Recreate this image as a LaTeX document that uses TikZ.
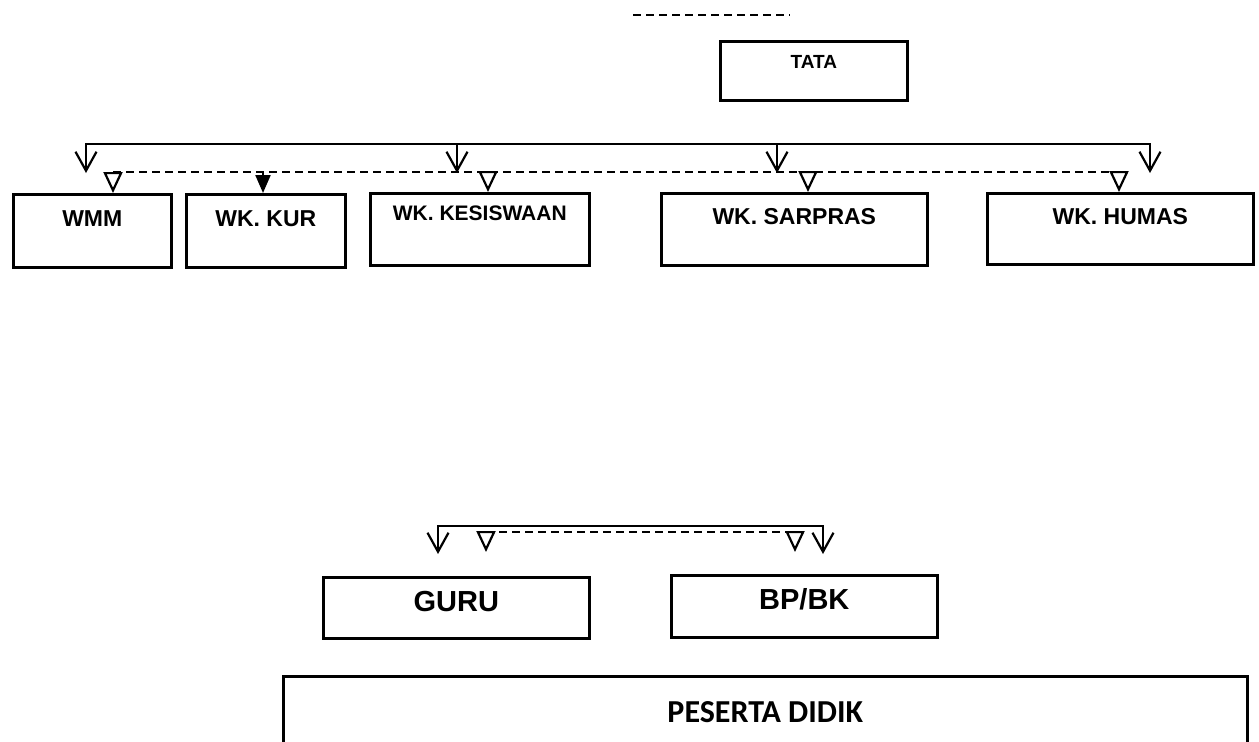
\documentclass[tikz,border=0pt]{standalone}
\usepackage{fontspec}
\setmainfont{Liberation Sans}
\newfontfamily\calibrifont{Carlito}
\usetikzlibrary{arrows.meta}

\begin{document}
\begin{tikzpicture}[x = 1pt, y = -1pt]
\tikzstyle{boxStyle}=[draw, line width = 2.6pt, anchor = north west, inner xsep = 0pt, inner ysep = 0pt, font = \fontsize{23}{23}\selectfont\bfseries]
\tikzstyle{bigboxStyle}=[boxStyle, font = \fontsize{29}{29}\selectfont\bfseries]
\tikzstyle{lineStyle}=[line width = 2.2pt]
\tikzstyle{dashStyle}=[line width = 2.2pt, dash pattern = on 8pt off 5pt]
\tikzstyle{barbStyle}=[line width = 2.2pt, -{Straight Barb[length = 19pt, width = 21pt]}]
\tikzstyle{barbsStyle}=[line width = 2.2pt, {Straight Barb[length = 19pt, width = 21pt]}-{Straight Barb[length = 19pt, width = 21pt]}]
\tikzstyle{openStyle}=[line width = 2.2pt, -{Triangle[open, length = 21pt, width = 19pt]}]
\tikzstyle{fillStyle}=[line width = 2.2pt, -{Triangle[length = 18pt, width = 15pt]}]
\useasboundingbox (0,0) rectangle (1259,742);
% boxes
\node[boxStyle, minimum width = 187pt, text height = 27pt, text depth = 32pt, font = \fontsize{19}{19}\selectfont\bfseries] (tata) at (719,40) {TATA};
\node[boxStyle, minimum width = 158pt, text height = 32pt, text depth = 41pt] (wmm) at (12,193) {WMM};
\node[boxStyle, minimum width = 159pt, text height = 32pt, text depth = 41pt] (wkkur) at (185,193) {WK. KUR};
\node[boxStyle, minimum width = 219pt, text height = 27pt, text depth = 45pt, font = \fontsize{21}{21}\selectfont\bfseries] (wkkes) at (369,192) {WK. KESISWAAN};
\node[boxStyle, minimum width = 266pt, text height = 31pt, text depth = 41pt] (wksar) at (660,192) {WK. SARPRAS};
\node[boxStyle, minimum width = 266pt, text height = 31pt, text depth = 40pt] (wkhum) at (986,192) {WK. HUMAS};
\node[bigboxStyle, minimum width = 266pt, text height = 34pt, text depth = 27pt] (guru) at (322,576) {GURU};
\node[bigboxStyle, minimum width = 266pt, text height = 34pt, text depth = 28pt] (bpbk) at (670,574) {BP/BK};
\node[boxStyle, minimum width = 964pt, text height = 46pt, text depth = 60pt, font = \fontsize{32}{32}\calibrifont\bfseries] (peserta) at (282,675) {PESERTA DIDIK};
% bus points
\coordinate (d0) at (633,15);
\coordinate (d1) at (790,15);
\coordinate (s0) at (86,144);
\coordinate (s1) at (457,144);
\coordinate (s2) at (777,144);
\coordinate (s3) at (1150,144);
\coordinate (t0) at (86,173);
\coordinate (t1) at (457,173);
\coordinate (t2) at (777,173);
\coordinate (t3) at (1150,173);
\coordinate (e0) at (113,172);
\coordinate (e1) at (263,172);
\coordinate (e2) at (488,172);
\coordinate (e3) at (808,172);
\coordinate (e4) at (1119,172);
\coordinate (s4) at (438,526);
\coordinate (s5) at (823,526);
\coordinate (t4) at (438,554);
\coordinate (t5) at (823,554);
\coordinate (e5) at (486,532);
\coordinate (e6) at (795,532);
\coordinate (u5) at (486,552);
\coordinate (u6) at (795,552);
% connectors
\draw[dashStyle] (d0) -- (d1);
\draw[barbsStyle] (t0) -- (s0) -- (s3) -- (t3);
\draw[barbStyle] (s1) -- (t1);
\draw[barbStyle] (s2) -- (t2);
\draw[dashStyle] (e0) -- (e4);
\draw[openStyle] (e0) -- (e0 |- wmm.north);
\draw[fillStyle] (e1) -- (e1 |- wkkur.north);
\draw[openStyle] (e2) -- (e2 |- wkkes.north);
\draw[openStyle] (e3) -- (e3 |- wksar.north);
\draw[openStyle] (e4) -- (e4 |- wkhum.north);
\draw[barbsStyle] (t4) -- (s4) -- (s5) -- (t5);
\draw[dashStyle] (e5) -- (e6);
\draw[openStyle] (e5) -- (u5);
\draw[openStyle] (e6) -- (u6);
\end{tikzpicture}
\end{document}
